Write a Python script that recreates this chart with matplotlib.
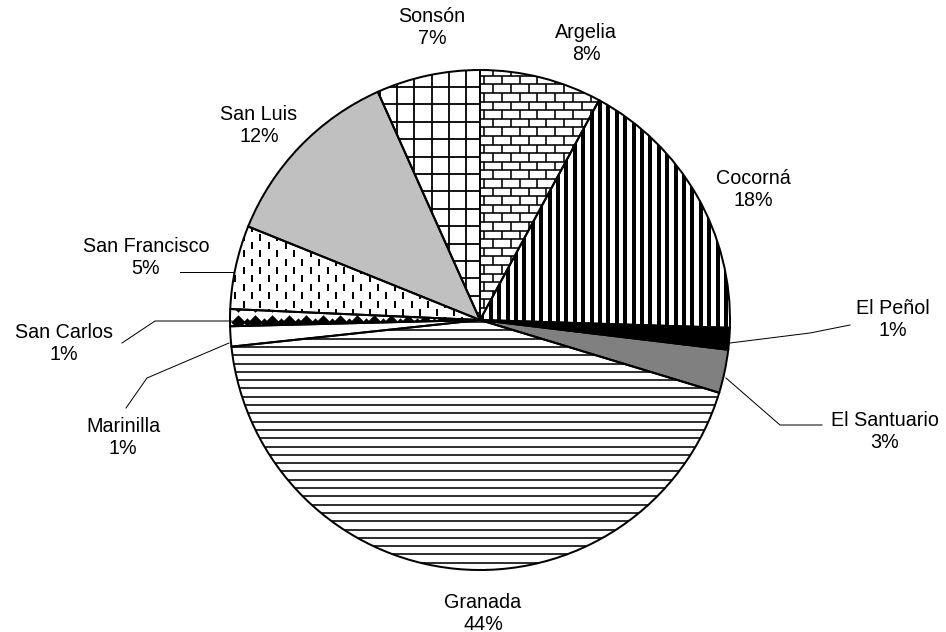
import numpy as np
import matplotlib
matplotlib.use("Agg")
import matplotlib.pyplot as plt
import matplotlib.patches as mpatches
from matplotlib.collections import LineCollection

plt.rcParams['font.family'] = ['Liberation Sans', 'DejaVu Sans']

# datos del gráfico
municipios = ['Argelia', 'Cocorná', 'El Peñol', 'El Santuario', 'Granada',
              'Marinilla', 'San Carlos', 'San Francisco', 'San Luis', 'Sonsón']
porcentajes = [7.9, 17.6, 1.4, 2.8, 43.6, 1.3, 1.1, 5.4, 12.2, 6.7]
colores = ['white', 'white', 'black', '#808080', 'white',
           'white', 'white', 'white', '#c0c0c0', 'white']
tramas = ['ladrillo', 'vertical', None, None, 'horizontal',
          None, 'rombos', 'guiones', None, 'cuadricula']

# posiciones de las etiquetas (pixeles) y lineas guia
pos_etiquetas = [(586, 43), (753, 189), (893, 320), (885, 432), (483, 613),
                 (123, 438), (64, 344), (146, 257), (259, 125), (432, 28)]
guias = {
    'El Peñol': [(730, 343), (810, 333), (850, 325)],
    'El Santuario': [(726, 378), (780, 425), (822, 425)],
    'Marinilla': [(229, 343), (147, 378), (126, 408)],
    'San Carlos': [(232, 321), (155, 321), (122, 343)],
    'San Francisco': [(233, 272), (180, 272)],
}

centro = (480, 320)
radio = 250
PX = 0.72  # 1 px en puntos (dpi 100)

fig = plt.figure(figsize=(9.46, 6.32), dpi=100)
ax = fig.add_axes([0, 0, 1, 1])

wedges, _ = ax.pie(porcentajes, colors=colores, startangle=-90, counterclock=True,
                   center=centro, radius=radio, frame=False,
                   wedgeprops=dict(edgecolor='none', linewidth=0))
ax.set_xlim(0, 946)
ax.set_ylim(632, 0)
ax.set_aspect('equal')
ax.axis('off')

x_min, x_max = centro[0] - radio - 20, centro[0] + radio + 20
y_min, y_max = centro[1] - radio - 20, centro[1] + radio + 20


def trama_segmentos(tipo):
    segs = []
    if tipo == 'vertical':
        for x in np.arange(600.0, x_max, 8.4):
            segs.append([(x, y_min), (x, y_max)])
        for x in np.arange(600.0 - 8.4, x_min, -8.4):
            segs.append([(x, y_min), (x, y_max)])
        return segs, 4 * PX
    if tipo == 'horizontal':
        for y in np.arange(322.0, y_max, 8.3):
            segs.append([(x_min, y), (x_max, y)])
        return segs, 1.6 * PX
    if tipo == 'cuadricula':
        for x in np.arange(397.0, x_max, 17.3):
            segs.append([(x, y_min), (x, y_max)])
        for x in np.arange(397.0 - 17.3, x_min, -17.3):
            segs.append([(x, y_min), (x, y_max)])
        for y in np.arange(87.0, y_max, 17.4):
            segs.append([(x_min, y), (x_max, y)])
        for y in np.arange(87.0 - 17.4, y_min, -17.4):
            segs.append([(x_min, y), (x_max, y)])
        return segs, 1.8 * PX
    if tipo == 'ladrillo':
        alto, ancho = 8.6, 17.7
        fila = 0
        for y in np.arange(y_min, y_max, alto):
            segs.append([(x_min, y), (x_max, y)])
            desp = (fila % 2) * ancho / 2
            for x in np.arange(x_min + desp, x_max, ancho):
                segs.append([(x, y), (x, y + alto)])
            fila += 1
        return segs, 1.6 * PX
    if tipo == 'guiones':
        k = 0
        for x in np.arange(x_min, 480, 8.4):
            off = (k % 2) * 8.35
            for y in np.arange(y_min + off, y_max, 16.7):
                segs.append([(x, y), (x, y + 7)])
            k += 1
        return segs, 2 * PX
    return segs, 1


for w, tipo in zip(wedges, tramas):
    w.set_zorder(1)
    if tipo == 'rombos':
        filas = np.arange(322.0 - 17 * 3, 322.0 + 17 * 3, 17)
        xs, ys = np.meshgrid(np.arange(238.0, 480, 17), filas)
        sc = ax.scatter(xs.ravel(), ys.ravel(), marker='D', s=55, color='black',
                        linewidths=0, zorder=2)
        sc.set_clip_path(w)
        xs2, ys2 = np.meshgrid(np.arange(246.5, 480, 17), filas)
        sc2 = ax.scatter(xs2.ravel(), ys2.ravel(), marker='D', s=18, color='black',
                         linewidths=0, zorder=2)
        sc2.set_clip_path(w)
    elif tipo is not None:
        segs, lw = trama_segmentos(tipo)
        lc = LineCollection(segs, colors='black', linewidths=lw, zorder=2)
        ax.add_collection(lc)
        lc.set_clip_path(w)
    borde = mpatches.Wedge(w.center, w.r, w.theta1, w.theta2, fill=False,
                           edgecolor='black', linewidth=2 * PX, zorder=3)
    ax.add_patch(borde)

# etiquetas
for nombre, p, (x, y) in zip(municipios, porcentajes, pos_etiquetas):
    ax.text(x, y, f"{nombre}\n{p:.0f}%", ha='center', va='center',
            fontsize=14.2, color='black', linespacing=1.2)

# lineas guia
for nombre, pts in guias.items():
    pts = np.array(pts)
    ax.plot(pts[:, 0], pts[:, 1], color='black', linewidth=1 * PX, zorder=4)

fig.savefig("out.png", dpi=100, facecolor='white')
